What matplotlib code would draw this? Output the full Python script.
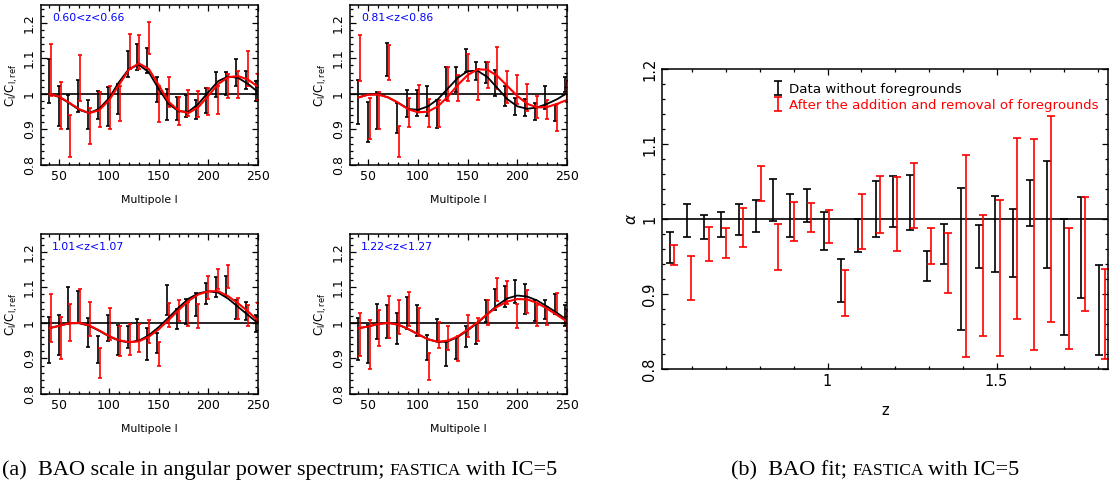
import matplotlib
matplotlib.use("Agg")
from matplotlib import pyplot as plt
from matplotlib.ticker import MultipleLocator, FuncFormatter

# ---------- left: C_l / C_l,ref in four redshift slices ----------
slice_labels = ["0.60<z<0.66", "0.81<z<0.86", "1.01<z<1.07", "1.22<z<1.27"]

ell_black = [40, 50, 59, 69, 79, 89, 99, 109, 119, 128, 138, 148, 158, 168, 178, 188, 198, 208, 218, 228, 238, 248]
ell_red = [42, 52, 61, 71, 81, 91, 101, 111, 121, 130, 140, 150, 160, 170, 180, 190, 200, 210, 220, 230, 240, 250]

black_hi = [
    [1.097, 1.021, 0.998, 1.039, 0.983, 1.007, 1.019, 1.028, 1.120, 1.140, 1.129, 1.047, 1.014, 0.990, 0.998, 0.983, 1.017, 1.061, 1.061, 1.098, 1.064, 1.037],
    [1.039, 0.978, 1.005, 1.142, 0.974, 1.012, 1.011, 1.021, 0.983, 1.075, 1.075, 1.125, 1.091, 1.089, 1.066, 1.023, 0.989, 0.986, 0.974, 1.021, 0.970, 1.047],
    [1.017, 1.023, 1.100, 1.089, 1.014, 0.964, 1.021, 0.995, 0.992, 1.011, 0.986, 0.972, 1.106, 1.039, 1.068, 1.083, 1.111, 1.130, 1.132, 1.063, 1.058, 1.023],
    [1.014, 0.995, 1.052, 1.049, 1.028, 1.073, 1.049, 0.967, 1.011, 0.946, 0.958, 0.992, 0.998, 1.063, 1.094, 1.105, 1.122, 1.108, 1.063, 1.064, 1.080, 1.049],
]
black_lo = [
    [0.975, 0.911, 0.902, 0.948, 0.902, 0.930, 0.911, 0.944, 1.047, 1.068, 1.058, 0.977, 0.927, 0.927, 0.936, 0.928, 0.946, 0.990, 0.998, 1.021, 1.014, 0.981],
    [0.916, 0.864, 0.902, 1.049, 0.889, 0.936, 0.939, 0.939, 0.903, 0.983, 1.005, 1.061, 1.039, 1.030, 0.995, 0.967, 0.941, 0.939, 0.927, 0.958, 0.923, 1.005],
    [0.887, 0.911, 0.998, 1.000, 0.931, 0.887, 0.950, 0.911, 0.930, 0.948, 0.895, 0.914, 1.023, 0.983, 0.997, 1.019, 1.054, 1.073, 1.076, 1.011, 1.008, 0.974],
    [0.897, 0.887, 0.955, 0.958, 0.942, 0.983, 0.964, 0.897, 0.948, 0.880, 0.899, 0.932, 0.942, 1.002, 1.036, 1.045, 1.056, 1.026, 1.005, 1.011, 1.026, 0.992],
]
red_hi = [
    [1.140, 1.033, 0.941, 1.108, 0.961, 1.005, 1.023, 1.021, 1.169, 1.166, 1.202, 1.021, 1.047, 0.990, 1.011, 1.009, 1.017, 1.021, 1.056, 1.064, 1.122, 1.056],
    [1.166, 0.988, 1.005, 1.138, 0.911, 0.989, 1.026, 0.986, 0.983, 1.077, 1.052, 1.112, 1.070, 1.089, 1.131, 1.063, 1.053, 1.028, 0.993, 0.983, 0.972, 1.035],
    [1.080, 1.017, 1.054, 1.094, 1.058, 0.930, 1.042, 0.992, 0.998, 0.998, 1.009, 0.946, 1.056, 1.063, 1.058, 1.052, 1.131, 1.152, 1.164, 1.070, 1.049, 1.056],
    [1.028, 1.009, 1.036, 1.075, 1.063, 1.086, 1.042, 0.915, 1.002, 0.992, 0.962, 1.023, 1.014, 1.063, 1.127, 1.117, 1.052, 1.092, 1.049, 1.045, 1.085, 1.033],
]
red_lo = [
    [0.993, 0.900, 0.822, 0.981, 0.859, 0.906, 0.902, 0.923, 1.070, 1.070, 1.111, 0.920, 0.964, 0.913, 0.939, 0.934, 0.942, 0.944, 0.988, 0.988, 1.023, 0.983],
    [1.037, 0.873, 0.902, 1.039, 0.822, 0.908, 0.948, 0.908, 0.906, 0.981, 0.979, 1.037, 0.983, 1.017, 1.014, 0.974, 0.972, 0.953, 0.933, 0.930, 0.897, 0.978],
    [0.946, 0.899, 0.948, 1.000, 0.962, 0.845, 0.953, 0.908, 0.911, 0.917, 0.944, 0.878, 0.989, 1.005, 0.992, 0.986, 1.066, 1.094, 1.099, 1.011, 0.991, 1.002],
    [0.906, 0.870, 0.934, 0.958, 0.970, 0.991, 0.962, 0.838, 0.930, 0.925, 0.892, 0.961, 0.948, 0.995, 1.061, 1.054, 0.986, 1.028, 0.992, 0.995, 1.025, 0.977],
]

curve_ell = [40, 50, 60, 70, 80, 90, 100, 110, 120, 130, 140, 150, 160, 170, 180, 190, 200, 210, 220, 230, 240, 250]
curve_black = [
    [1.000, 0.991, 0.974, 0.955, 0.946, 0.958, 0.988, 1.033, 1.070, 1.082, 1.061, 1.014, 0.972, 0.951, 0.950, 0.972, 1.005, 1.036, 1.049, 1.045, 1.028, 1.005],
    [0.990, 0.998, 0.999, 0.990, 0.975, 0.958, 0.955, 0.965, 0.985, 1.015, 1.045, 1.064, 1.065, 1.047, 1.016, 0.985, 0.965, 0.958, 0.962, 0.972, 0.985, 1.002],
    [0.985, 0.992, 0.999, 0.999, 0.992, 0.978, 0.962, 0.950, 0.945, 0.950, 0.965, 0.988, 1.015, 1.043, 1.068, 1.083, 1.089, 1.085, 1.068, 1.045, 1.022, 0.999],
    [0.985, 0.990, 0.997, 1.000, 0.995, 0.983, 0.968, 0.954, 0.946, 0.948, 0.960, 0.979, 1.000, 1.025, 1.050, 1.069, 1.077, 1.074, 1.063, 1.046, 1.028, 1.008],
]
curve_red = [
    [1.000, 0.992, 0.975, 0.957, 0.946, 0.954, 0.982, 1.025, 1.068, 1.086, 1.070, 1.025, 0.978, 0.953, 0.946, 0.963, 0.995, 1.028, 1.047, 1.050, 1.040, 1.020],
    [0.990, 0.998, 0.998, 0.990, 0.975, 0.957, 0.948, 0.950, 0.965, 0.992, 1.025, 1.053, 1.069, 1.068, 1.050, 1.022, 0.994, 0.972, 0.962, 0.963, 0.972, 0.983],
    [0.985, 0.992, 0.999, 1.000, 0.993, 0.979, 0.963, 0.951, 0.946, 0.948, 0.961, 0.982, 1.008, 1.036, 1.062, 1.080, 1.089, 1.089, 1.075, 1.055, 1.032, 1.006],
    [0.985, 0.990, 0.997, 1.000, 0.995, 0.983, 0.968, 0.954, 0.947, 0.950, 0.962, 0.981, 1.002, 1.025, 1.046, 1.060, 1.067, 1.066, 1.056, 1.040, 1.022, 1.004],
]

# ---------- right: BAO fit alpha vs z ----------
z_black = [0.533, 0.584, 0.635, 0.686, 0.737, 0.787, 0.838, 0.888, 0.940, 0.990, 1.040, 1.091, 1.142,
           1.193, 1.245, 1.295, 1.346, 1.396, 1.447, 1.497, 1.548, 1.600, 1.650, 1.699, 1.751, 1.803]
z_red = [0.546, 0.597, 0.649, 0.699, 0.749, 0.804, 0.852, 0.902, 0.952, 1.003, 1.053, 1.103, 1.156,
         1.205, 1.256, 1.307, 1.356, 1.411, 1.460, 1.509, 1.561, 1.612, 1.662, 1.714, 1.763, 1.820]
alpha_black_hi = [0.983, 1.020, 1.005, 1.009, 1.020, 1.025, 1.053, 1.034, 1.040, 1.009, 0.947, 1.000, 1.051,
                  1.058, 1.059, 0.958, 0.993, 1.042, 0.992, 1.031, 1.013, 1.052, 1.077, 1.000, 1.029, 0.939]
alpha_black_lo = [0.941, 0.976, 0.973, 0.976, 0.979, 0.983, 0.997, 0.976, 0.996, 0.959, 0.889, 0.956, 0.976,
                  0.990, 0.985, 0.918, 0.940, 0.852, 0.935, 0.930, 0.922, 0.991, 0.934, 0.845, 0.895, 0.819]
alpha_red_hi = [0.965, 0.951, 0.990, 0.988, 1.015, 1.071, 0.994, 1.023, 1.021, 1.012, 0.932, 1.033, 1.057,
                1.056, 1.075, 0.988, 0.981, 1.085, 1.006, 1.026, 1.108, 1.106, 1.138, 0.988, 1.030, 0.933]
alpha_red_lo = [0.939, 0.892, 0.944, 0.948, 0.963, 1.024, 0.932, 0.971, 0.982, 0.968, 0.871, 0.960, 0.982,
                0.957, 0.988, 0.940, 0.902, 0.816, 0.844, 0.818, 0.867, 0.825, 0.863, 0.827, 0.877, 0.814]

W, H = 1110, 486
fig = plt.figure(figsize=(W / 100, H / 100), dpi=100)


def frac(left, top, right, bottom):
    # pixel box -> figure fraction rect
    return [left / W, 1 - bottom / H, (right - left) / W, (bottom - top) / H]


def bars(ax, x, lo, hi, color, capsize, lw):
    mid = [(a + b) / 2 for a, b in zip(lo, hi)]
    err = [(b - a) / 2 for a, b in zip(lo, hi)]
    return ax.errorbar(x, mid, yerr=err, fmt="none", ecolor=color, elinewidth=lw,
                       capsize=capsize, capthick=lw)


def style_ticks(ax, size):
    ax.tick_params(which="both", direction="in", top=True, right=True, width=0.9,
                   labelsize=size)
    ax.tick_params(which="major", length=4.5)
    ax.tick_params(which="minor", length=2.2)
    for s in ax.spines.values():
        s.set_linewidth(1.1)
    fmt = FuncFormatter(lambda v, p: f"{v:g}")
    ax.xaxis.set_major_formatter(fmt)
    ax.yaxis.set_major_formatter(fmt)
    for lab in ax.get_yticklabels():
        lab.set_rotation(90)
        lab.set_va("center")


boxes = [(41, 5, 258, 165), (350, 5, 567, 165), (41, 234, 258, 394), (350, 234, 567, 394)]
for i, box in enumerate(boxes):
    ax = fig.add_axes(frac(*box))
    ax.axhline(1.0, color="black", lw=1.2)
    bars(ax, ell_black, black_lo[i], black_hi[i], "black", 1.7, 1.2)
    bars(ax, ell_red, red_lo[i], red_hi[i], "red", 1.7, 1.2)
    ax.plot(curve_ell, curve_black[i], color="black", lw=1.3)
    ax.plot(curve_ell, curve_red[i], color="red", lw=1.5)
    ax.set_xlim(31.5, 250)
    ax.set_ylim(0.8, 1.25)
    ax.xaxis.set_major_locator(MultipleLocator(50))
    ax.xaxis.set_minor_locator(MultipleLocator(10))
    ax.yaxis.set_major_locator(MultipleLocator(0.1))
    ax.yaxis.set_minor_locator(MultipleLocator(0.02))
    style_ticks(ax, 9)
    ax.text(0.05, 0.95, slice_labels[i], transform=ax.transAxes, color="blue",
            fontsize=7.8, ha="left", va="top")
    ax.set_xlabel("Multipole l", fontsize=7.8, labelpad=9)
    ax.set_ylabel(r"$\mathregular{C_l/C_{l,ref}}$", fontsize=8.5, labelpad=2)

# right panel
axr = fig.add_axes(frac(662, 69, 1108, 369))
axr.axhline(1.0, color="black", lw=1.2)
hb = bars(axr, z_black, alpha_black_lo, alpha_black_hi, "black", 2.9, 1.2)
hr = bars(axr, z_red, alpha_red_lo, alpha_red_hi, "red", 2.9, 1.2)
axr.set_xlim(0.51, 1.83)
axr.set_ylim(0.8, 1.2)
axr.xaxis.set_major_locator(MultipleLocator(0.5))
axr.xaxis.set_minor_locator(MultipleLocator(0.1))
axr.yaxis.set_major_locator(MultipleLocator(0.1))
axr.yaxis.set_minor_locator(MultipleLocator(0.02))
style_ticks(axr, 10.5)
axr.set_xlabel("z", fontsize=10.5, labelpad=10)
axr.set_ylabel(r"$\alpha$", fontsize=11, labelpad=2)
leg = axr.legend([hb, hr], ["Data without foregrounds",
                            "After the addition and removal of foregrounds"],
                 loc="upper left", bbox_to_anchor=(0.225, 0.995), frameon=False,
                 fontsize=9.6, handlelength=0.6, handletextpad=0.5, labelspacing=0.25)
for t, c in zip(leg.get_texts(), ["black", "red"]):
    t.set_color(c)

# captions with small-caps FASTICA
renderer = fig.canvas.get_renderer()
serif = "Liberation Serif"


def caption(x, y, pieces):
    for txt, size in pieces:
        t = fig.text(x / W, y, txt, fontsize=size, family=serif, va="baseline")
        x += t.get_window_extent(renderer).width + 5


base = 11 / H
caption(2, base, [("(a)  BAO scale in angular power spectrum;", 16),
                  ("FASTICA", 12.5), ("with IC=5", 16)])
caption(731, base, [("(b)  BAO fit;", 16), ("FASTICA", 12.5), ("with IC=5", 16)])

fig.savefig("out.png", dpi=100)
